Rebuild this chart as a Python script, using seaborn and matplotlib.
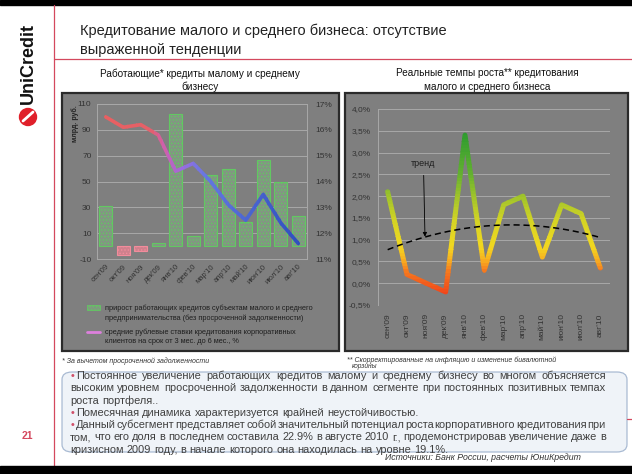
import numpy as np
import pandas as pd
import seaborn as sns
import matplotlib.pyplot as plt
from matplotlib.patches import Rectangle, FancyBboxPatch, Ellipse
from matplotlib.lines import Line2D
from matplotlib.colors import LinearSegmentedColormap

W, H = 632, 474


def fx(x):
    return x / W


def fy(y):
    return 1 - y / H


# data
months = ["сен'09", "окт'09", "ноя'09", "дек'09", "янв'10", "фев'10",
          "мар'10", "апр'10", "май'10", "июн'10", "июл'10", "авг'10"]
loan_growth = [31, -7, -4, 2.5, 102, 8, 55, 60, 19, 67, 50, 23]          # млрд. руб.
loan_rate = [16.5, 16.1, 16.2, 15.8, 14.4, 14.7, 14.0, 13.1, 12.5, 13.5, 12.4, 11.6]  # %
real_growth = [2.1, 0.2, 0.0, -0.2, 3.4, 0.3, 1.8, 2.0, 0.6, 1.8, 1.6, 0.35]          # %

left_ticks = [-10, 10, 30, 50, 70, 90, 110]
right_ticks = [11, 12, 13, 14, 15, 16, 17]
growth_ticks = [-0.5, 0.0, 0.5, 1.0, 1.5, 2.0, 2.5, 3.0, 3.5, 4.0]

sns.set_theme(style='white')
plt.rcParams['font.family'] = ['Liberation Sans', 'DejaVu Sans']
plt.rcParams['hatch.linewidth'] = 0.6
plt.rcParams['axes.unicode_minus'] = False

fig = plt.figure(figsize=(6.32, 4.74), dpi=100)
fig.patch.set_facecolor('white')
dark = '#333333'
red = '#d4485e'

# page frame
fig.add_artist(Rectangle((0, fy(5)), 1, 5 / H, transform=fig.transFigure, color='black', zorder=0))
fig.add_artist(Rectangle((0, 0), 1, 8 / H, transform=fig.transFigure, color='black', zorder=5))
fig.add_artist(Line2D([fx(54), fx(54)], [fy(466), fy(5)], color=red, lw=0.9))
fig.add_artist(Line2D([fx(54), 1], [fy(59), fy(59)], color=red, lw=0.9))
fig.add_artist(Line2D([fx(627), 1], [fy(419), fy(419)], color=red, lw=0.9))

# logo
fig.text(fx(28), fy(63), 'UniCredit', rotation=90, ha='center', va='center',
         fontsize=13, fontweight='bold', color='#111111')
fig.add_artist(Ellipse((fx(28), fy(117)), 17 / W, 17 / H, transform=fig.transFigure,
                       color='#e0202a', zorder=3))
fig.add_artist(Line2D([fx(23), fx(33)], [fy(121), fy(112)], color='white', lw=2, zorder=4))
fig.text(fx(27), fy(436), '21', ha='center', va='center', fontsize=7.5,
         fontweight='bold', color=red)

# title
fig.text(fx(80), fy(31), 'Кредитование малого и среднего бизнеса: отсутствие',
         fontsize=10.5, color='#222222', va='center')
fig.text(fx(80), fy(50), 'выраженной тенденции', fontsize=10.5, color='#222222', va='center')

fig.text(fx(200), fy(80), 'Работающие* кредиты малому и среднему\nбизнесу', ha='center',
         va='center', fontsize=7.2, color='#111111', linespacing=1.35)
fig.text(fx(487), fy(80), 'Реальные темпы роста** кредитования\nмалого и среднего бизнеса',
         ha='center', va='center', fontsize=7.2, color='#111111', linespacing=1.35)

# chart panels
panel_grey = '#7f7f7f'
for x0, x1 in [(62, 339), (345, 628)]:
    fig.add_artist(Rectangle((fx(x0), fy(351)), (x1 - x0) / W, (351 - 93) / H,
                             transform=fig.transFigure, facecolor=panel_grey,
                             edgecolor='#2a2a2a', lw=1.6, zorder=0))

# ---------------- left chart ----------------
ax = fig.add_axes([fx(97), fy(259), 210 / W, 155 / H])
ax.set_facecolor('none')
bar_colors = ['#7f9a7f' if v >= 0 else '#dc7484' for v in loan_growth]
sns.barplot(x=months, y=loan_growth, hue=months, palette=bar_colors, legend=False,
            width=0.72, ax=ax, zorder=3)
for p, v in zip(ax.patches, loan_growth):
    p.set_hatch('.....')
    p.set_edgecolor('#62c862' if v >= 0 else '#f28c9c')
    p.set_linewidth(0.8)
ax.set_ylim(-10, 110)
ax.set_xlim(-0.5, 11.5)
ax.set_yticks(left_ticks)
ax.grid(axis='y', color='#a8a8a8', lw=0.7, zorder=0)
ax.set_axisbelow(True)
for s in ax.spines.values():
    s.set_color('#a8a8a8')
    s.set_linewidth(0.7)
ax.tick_params(axis='both', length=0, labelsize=6, colors=dark)
ax.tick_params(axis='y', pad=4)
ax.set_xticks(range(len(months)))
ax.set_xticklabels(months, rotation=45, ha='right', rotation_mode='anchor', fontsize=5.5)
ax.tick_params(axis='x', pad=3)
ax.set_xlabel('')
ax.set_ylabel('')
fig.text(fx(75), fy(124), 'млрд. руб.', rotation=90, ha='center', va='center',
         fontsize=5, fontweight='bold', color='#222222')

ax2 = ax.twinx()
ax2.set_ylim(11, 17)
ax2.set_yticks(right_ticks)
ax2.set_yticklabels([f'{t}%' for t in right_ticks])
ax2.tick_params(axis='y', length=0, labelsize=6, colors=dark, pad=6)
for s in ax2.spines.values():
    s.set_visible(False)

rate_cmap = LinearSegmentedColormap.from_list('rate', [
    (0.0, '#ea6060'), (0.25, '#e66068'), (0.33, '#cc60b4'), (0.41, '#9a6ce0'),
    (0.52, '#6478e2'), (1.0, '#2a4cbc')])
xs = np.arange(len(months))
n_band = 48
edges = np.linspace(-0.5, 11.5, n_band + 1)
for i in range(n_band):
    c = rate_cmap((0.5 * (edges[i] + edges[i + 1]) + 0.5) / 12)
    sns.lineplot(x=xs, y=loan_rate, ax=ax2, color=c, lw=2.6, zorder=4)
    ln = ax2.lines[-1]
    ln.set_solid_capstyle('round')
    ln.set_clip_path(Rectangle((edges[i] - 0.02, 10), edges[i + 1] - edges[i] + 0.04, 8,
                               transform=ax2.transData))
ax2.set_ylabel('')
ax2.set_xlim(-0.5, 11.5)

# legend in the left panel
fig.add_artist(Rectangle((fx(87), fy(310)), 13 / W, 5 / H, transform=fig.transFigure,
                         facecolor='#7f9a7f', edgecolor='#62c862', hatch='.....', lw=0.6))
fig.add_artist(Line2D([fx(87), fx(100)], [fy(332), fy(332)], color='#dd80dd', lw=2))
fig.text(fx(105), fy(313), 'прирост работающих кредитов субъектам малого и среднего\n'
         'предпринимательства (без просроченной задолженности)', fontsize=5.3,
         color='#1e1e1e', va='center', linespacing=1.45)
fig.text(fx(105), fy(337), 'средние рублевые ставки кредитования корпоративных\n'
         'клиентов на срок от 3 мес. до 6 мес., %', fontsize=5.3,
         color='#1e1e1e', va='center', linespacing=1.45)

# ---------------- right chart ----------------
axr = fig.add_axes([fx(378), fy(305), 232 / W, 196 / H])
axr.set_facecolor('none')
growth_cmap = LinearSegmentedColormap.from_list('growth', [
    (0.0, '#f0401a'), (0.15, '#f5781e'), (0.22, '#f7b020'), (0.3, '#f2d820'),
    (0.45, '#d6d424'), (0.58, '#a8c62a'), (0.75, '#62b030'), (1.0, '#2a9a2e')])
lo, hi = -0.3, 3.5
yb = np.linspace(-0.5, 4.0, 61)
for i in range(len(yb) - 1):
    mid = 0.5 * (yb[i] + yb[i + 1])
    c = growth_cmap(np.clip((mid - lo) / (hi - lo), 0, 1))
    sns.lineplot(x=xs, y=real_growth, ax=axr, color=c, lw=3.6, zorder=4)
    ln = axr.lines[-1]
    ln.set_solid_joinstyle('round')
    ln.set_solid_capstyle('round')
    ln.set_clip_path(Rectangle((-1, yb[i] - 0.005), 14, yb[i + 1] - yb[i] + 0.01,
                               transform=axr.transData))
sns.regplot(x=xs, y=real_growth, order=2, ci=None, scatter=False, ax=axr,
            line_kws=dict(color='black', lw=1.1, ls=(0, (4, 2.5)), zorder=5))
axr.annotate('тренд', xy=(1.93, 1.07), xytext=(1.85, 2.75), fontsize=6.5, color='#1e1e1e',
             ha='center', va='center',
             arrowprops=dict(arrowstyle='-|>', color='black', lw=0.6, mutation_scale=6,
                             shrinkA=3, shrinkB=0))
axr.set_xlim(-0.5, 11.5)
axr.set_ylim(-0.5, 4.0)
axr.set_yticks(growth_ticks)
axr.set_yticklabels([f'{t:.1f}%'.replace('.', ',') for t in growth_ticks])
axr.set_xticks(xs)
axr.set_xticklabels(months, rotation=90, fontsize=5.5)
axr.grid(axis='y', color='#a8a8a8', lw=0.7, zorder=0)
axr.set_axisbelow(True)
for k, s in axr.spines.items():
    s.set_visible(k == 'left')
    s.set_color('#a8a8a8')
    s.set_linewidth(0.7)
axr.tick_params(axis='both', length=0, labelsize=6, colors=dark)
axr.tick_params(axis='y', pad=5)
axr.tick_params(axis='x', pad=6)
axr.set_xlabel('')
axr.set_ylabel('')

# footnotes
fig.text(fx(62), fy(361), '* За вычетом просроченной задолженности', fontsize=5,
         style='italic', color='#333333', va='center')
fig.text(fx(347), fy(360), '** Скорректированные на инфляцию и изменение бивалютной',
         fontsize=5, style='italic', color='#333333', va='center')
fig.text(fx(352), fy(367), 'корзины', fontsize=4.8, style='italic', color='#333333',
         va='center')

# text box
fig.add_artist(FancyBboxPatch((fx(62), fy(452)), 565 / W, 80 / H,
                              boxstyle='round,pad=0,rounding_size=0.016',
                              transform=fig.transFigure, facecolor='#edf1f7', alpha=0.85,
                              edgecolor='#9cb0cc', lw=0.9, zorder=1))

para = [
    ('•Постоянное увеличение работающих кредитов малому и среднему бизнесу во многом объясняется', True),
    ('высоким уровнем просроченной задолженности в данном сегменте при постоянных позитивных темпах', True),
    ('роста портфеля..', False),
    ('•Помесячная динамика характеризуется крайней неустойчивостью.', False),
    ('•Данный субсегмент представляет собой значительный потенциал роста корпоративного кредитования при', True),
    ('том, что его доля в последнем составила 22.9% в августе 2010 г., продемонстрировав увеличение даже в', True),
    ('кризисном 2009 году, в начале которого она находилась на уровне 19.1%.', False),
]
renderer = fig.canvas.get_renderer()
fs = 7.9
for i, (line, just) in enumerate(para):
    y = 376 + 12.3 * i
    x0 = 70
    words = line.split(' ')
    if words[0].startswith('•'):
        fig.text(fx(71), fy(y), '•', fontsize=fs, color='#d0506a', va='center', zorder=3)
        words[0] = words[0][1:]
        x0 = 76
    arts = [fig.text(0, fy(y), w, fontsize=fs, color='#404040', va='center', zorder=3)
            for w in words]
    widths = [a.get_window_extent(renderer).width for a in arts]
    gap = (606 - x0 - sum(widths)) / (len(words) - 1) if just else fs * 100 / 72 * 0.28
    x = x0
    for a, w in zip(arts, widths):
        a.set_x(fx(x))
        x += w + gap

fig.text(fx(385), fy(458), 'Источники: Банк России, расчеты ЮниКредит', fontsize=6.3,
         style='italic', color='#333333', va='center')

plt.savefig('out.png', dpi=100)
